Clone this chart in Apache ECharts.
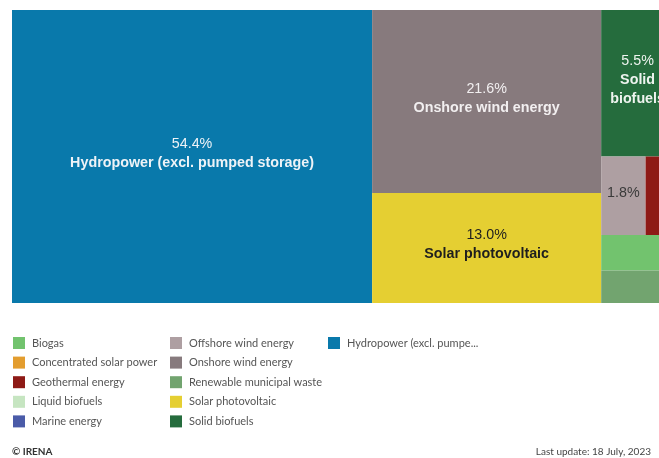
<!DOCTYPE html>
<html>
<head>
<meta charset="utf-8">
<script src="https://cdn.jsdelivr.net/npm/echarts@6/dist/echarts.min.js"></script>
<style>
  html, body { margin: 0; padding: 0; background: #ffffff; }
  #chart { width: 659px; height: 458px; }
</style>
</head>
<body>
<div id="chart"></div>
<script>
// Renewable electricity generation, share by technology (%), in layout order
const technologies = [
  'Hydropower (excl. pumped storage)',
  'Onshore wind energy',
  'Solar photovoltaic',
  'Solid biofuels',
  'Offshore wind energy',
  'Geothermal energy',
  'Biogas',
  'Renewable municipal waste',
  'Liquid biofuels',
  'Concentrated solar power',
  'Marine energy'
];
const shares = [54.4, 21.6, 13.0, 5.5, 1.8, 1.15, 1.3, 1.2, 0.03, 0.01, 0.01];

// Name printed inside each tile: text (line breaks allowed), '' = share only, null = no label
const tileNames = [
  'Hydropower (excl. pumped storage)',
  'Onshore wind energy',
  'Solar photovoltaic',
  'Solid\nbiofuels',
  '',
  null, null, null, null, null, null
];

const techColors = {
  'Hydropower (excl. pumped storage)': '#0979ab',
  'Onshore wind energy': '#877a7d',
  'Solar photovoltaic': '#e5cf32',
  'Solid biofuels': '#256c3d',
  'Offshore wind energy': '#ae9fa2',
  'Geothermal energy': '#8e1a16',
  'Biogas': '#72c36e',
  'Renewable municipal waste': '#72a46f',
  'Liquid biofuels': '#c6e5c1',
  'Concentrated solar power': '#e39d2f',
  'Marine energy': '#4a5ba8'
};
const tileTextColors = ['#eef3f7', '#f2eff0', '#1e1e1e', '#eef4ef', '#3a3a3a'];

// Legend, column by column
const legendColumns = [
  ['Biogas', 'Concentrated solar power', 'Geothermal energy', 'Liquid biofuels', 'Marine energy'],
  ['Offshore wind energy', 'Onshore wind energy', 'Renewable municipal waste', 'Solar photovoltaic', 'Solid biofuels'],
  ['Hydropower (excl. pumped storage)']
];
const legendTextWidths = [150, 150, 134];

const footerLeft = '\u00a9 IRENA';
const footerRight = 'Last update: 18 July, 2023';

const LINE_H = 19;      // label line height inside tiles
const LABEL_LIFT = 3;   // labels sit slightly above the tile centre

function buildTreeData(padding) {
  return technologies.map((name, i) => ({
    name: name,
    value: shares[i],
    tile: tileNames[i],
    itemStyle: { color: techColors[name] },
    label: tileNames[i] === null
      ? { show: false }
      : Object.assign({ show: true, color: tileTextColors[i] },
          padding && padding[name] ? { padding: padding[name] } : {})
  }));
}

const legendX = [13, 170, 328];
const legendY0 = 343;
const legendStep = 19.6;
const graphics = [];
legendColumns.forEach((col, c) => {
  col.forEach((name, r) => {
    const cy = legendY0 + r * legendStep;
    graphics.push({
      type: 'rect',
      shape: { x: legendX[c], y: cy - 6, width: 12, height: 12 },
      style: { fill: techColors[name] },
      silent: true
    });
    graphics.push({
      type: 'text',
      x: legendX[c] + 19,
      y: cy,
      silent: true,
      style: {
        text: name,
        fill: '#555555',
        font: '11px Lato',
        verticalAlign: 'middle',
        width: legendTextWidths[c],
        overflow: 'truncate',
        ellipsis: '...'
      }
    });
  });
});
graphics.push({
  type: 'text', x: 12, y: 452, silent: true,
  style: { text: footerLeft, fill: '#333333', font: 'bold 10px Lato', verticalAlign: 'middle' }
});
graphics.push({
  type: 'text', x: 651, y: 452, silent: true,
  style: { text: footerRight, fill: '#444444', font: '10px Lato', align: 'right', verticalAlign: 'middle' }
});

const chart = echarts.init(document.getElementById('chart'), null, { renderer: 'canvas' });
chart.setOption({
  animation: false,
  backgroundColor: '#ffffff',
  tooltip: { show: false },
  graphic: graphics,
  series: [{
    type: 'treemap',
    left: 12,
    top: 10,
    width: 662,
    height: 293,
    sort: false,
    roam: false,
    nodeClick: false,
    silent: true,
    breadcrumb: { show: false },
    itemStyle: { borderWidth: 0, gapWidth: 0 },
    label: {
      show: true,
      position: 'inside',
      align: 'center',
      fontFamily: 'Liberation Sans',
      formatter: (p) => {
        const tile = p.data.tile;
        let txt = '{v|' + p.value.toFixed(1) + '%}';
        if (tile) {
          txt += '\n' + tile.split('\n').map(s => '{n|' + s + '}').join('\n');
        }
        return txt;
      },
      rich: {
        v: { fontFamily: 'Liberation Sans', fontSize: 14.3, fontWeight: 'normal', lineHeight: LINE_H },
        n: { fontFamily: 'Liberation Sans', fontSize: 14.3, fontWeight: 'bold', lineHeight: LINE_H }
      }
    },
    upperLabel: { show: false },
    data: buildTreeData(null)
  }]
});

// Treemap labels are laid out from the top of each tile; pad them so the
// text block sits in the middle of the tile the layout produced.
const root = chart.getModel().getSeriesByIndex(0).getData().tree.root;
const padding = {};
root.children.forEach((node) => {
  const i = technologies.indexOf(node.name);
  if (i < 0 || tileNames[i] === null) return;
  const lines = 1 + (tileNames[i] ? tileNames[i].split('\n').length : 0);
  const h = node.getLayout().height;
  const free = Math.max(h - lines * LINE_H, 0);
  const top = Math.max(free / 2 - LABEL_LIFT, 0);
  padding[node.name] = [top, 0, free - top, 0];
});
chart.setOption({ series: [{ data: buildTreeData(padding) }] });
</script>
</body>
</html>
